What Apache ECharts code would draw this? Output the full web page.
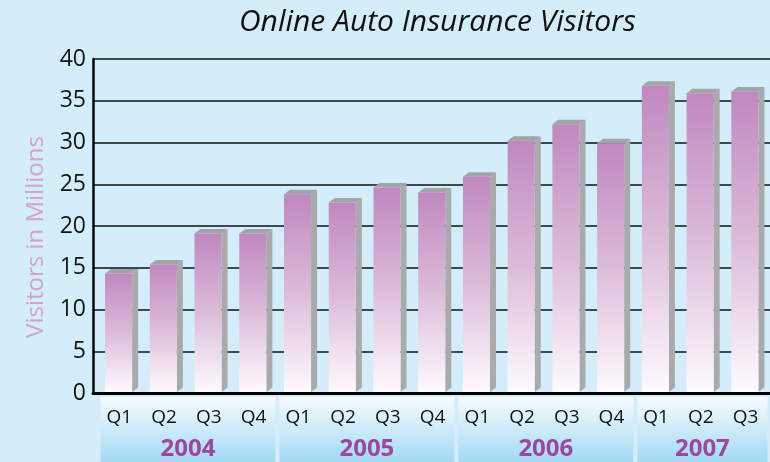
<!DOCTYPE html>
<html>
<head>
<meta charset="utf-8">
<script src="https://cdn.jsdelivr.net/npm/echarts@6/dist/echarts.min.js"></script>
<style>
  html, body { margin: 0; padding: 0; background: #d3eefa; }
  #chart { width: 770px; height: 462px; }
</style>
</head>
<body>
<div id="chart"></div>
<script>
let quarters = ['Q1', 'Q2', 'Q3', 'Q4', 'Q1', 'Q2', 'Q3', 'Q4', 'Q1', 'Q2', 'Q3', 'Q4', 'Q1', 'Q2', 'Q3'];
let visitors = [14.3, 15.4, 19.1, 19.1, 23.8, 22.8, 24.6, 24.0, 25.9, 30.2, 32.2, 29.9, 36.8, 35.9, 36.1];
let years = ['2004', '2005', '2006', '2007'];
let yearFirst = [0, 4, 8, 12];
let yearLast = [3, 7, 11, 14];
let yMin = 0, yMax = 40, yStep = 5;

let fontName = '"Open Sans", "Noto Sans", sans-serif';

// front face of a bar: purple on top fading to white
let frontFill = () => new echarts.graphic.LinearGradient(0, 0, 0, 1, [
  { offset: 0, color: '#c088bf' },
  { offset: 0.5, color: '#dcbcd9' },
  { offset: 1, color: '#fefafe' }
]);

let renderBar = (params, api) => {
  let i = api.value(0);
  let top = api.coord([i, api.value(1)]);
  let base = api.coord([i, 0]);
  let w = api.size([1, 0])[0];
  let fl = top[0] - w * 0.32;
  let fw = w * 0.605;
  let fr = fl + fw;
  let d = w * 0.135;
  let dy = 4.5;
  let bottom = base[1] - 1;
  return {
    type: 'group',
    children: [
      {
        type: 'polygon',
        shape: { points: [[fr, top[1]], [fr + d, top[1] - dy], [fr + d, bottom - dy], [fr, bottom]] },
        style: { fill: '#a8aaac' }
      },
      {
        type: 'polygon',
        shape: { points: [[fl, top[1]], [fl + d, top[1] - dy], [fr + d, top[1] - dy], [fr, top[1]]] },
        style: { fill: '#a3a4a5' }
      },
      {
        type: 'rect',
        shape: { x: fl, y: top[1], width: fw, height: bottom - top[1] },
        style: { fill: frontFill() }
      }
    ]
  };
}

// light band under each year's quarters, with the year in it
let renderBand = (params, api) => {
  let a = api.coord([api.value(0), 0]);
  let b = api.coord([api.value(1), 0]);
  let w = api.size([1, 0])[0];
  let x0 = a[0] - w / 2 + 3.5;
  let x1 = b[0] + w / 2 - 0.5;
  let y0 = a[1] + 4;
  let y1 = api.getHeight();
  return {
    type: 'group',
    children: [
      {
        type: 'rect',
        shape: { x: x0, y: y0, width: x1 - x0, height: y1 - y0 },
        style: {
          fill: new echarts.graphic.LinearGradient(0, 0, 0, 1, [
            { offset: 0, color: '#f6fcfe' },
            { offset: 1, color: '#a3d9f3' }
          ])
        }
      },
      {
        type: 'text',
        style: {
          text: years[params.dataIndex],
          x: (x0 + x1) / 2,
          y: a[1] + 56,
          align: 'center',
          verticalAlign: 'middle',
          fill: '#9b479b',
          fontSize: 24,
          fontWeight: 'bold',
          fontFamily: fontName
        }
      }
    ]
  };
}

let myChart = echarts.init(document.getElementById('chart'));
let option = {
  backgroundColor: '#d3eefa',
  animation: false,
  title: {
    text: 'Online Auto Insurance Visitors',
    left: 234,
    top: 2,
    textStyle: {
      fontSize: 30,
      fontStyle: 'italic',
      fontWeight: 'normal',
      color: '#111',
      fontFamily: fontName
    }
  },
  grid: [
    { left: 93, right: 0, top: 59, bottom: 69 },
    { left: 97, right: 2, top: 59, bottom: 69 }
  ],
  xAxis: [
    {
      gridIndex: 0,
      type: 'value',
      min: 0,
      max: 1,
      axisLine: { show: true, lineStyle: { color: '#000', width: 3 } },
      axisTick: { show: false },
      axisLabel: { show: false },
      splitLine: { show: false }
    },
    {
      gridIndex: 1,
      type: 'category',
      data: quarters,
      z: 5,
      axisLine: { show: false },
      axisTick: { show: false },
      axisLabel: { color: '#111', fontSize: 19, margin: 15, fontFamily: fontName },
      splitLine: { show: false }
    }
  ],
  yAxis: [
    {
      gridIndex: 0,
      type: 'value',
      min: yMin,
      max: yMax,
      interval: yStep,
      name: 'Visitors in Millions',
      nameLocation: 'middle',
      nameRotate: 90,
      nameGap: 45,
      nameTextStyle: { color: '#d6a0cf', fontSize: 24, fontFamily: fontName, padding: [0, 22, 0, 0] },
      axisLine: { show: true, lineStyle: { color: '#000', width: 2.5 } },
      axisTick: { show: false },
      axisLabel: { color: '#111', fontSize: 23, margin: 7, fontFamily: fontName },
      splitLine: { show: true, lineStyle: { color: '#111', width: 1.5 } }
    },
    {
      gridIndex: 1,
      type: 'value',
      min: yMin,
      max: yMax,
      interval: yStep,
      show: false
    }
  ],
  series: [
    {
      name: 'Years',
      type: 'custom',
      xAxisIndex: 1,
      yAxisIndex: 1,
      z: 1,
      renderItem: renderBand,
      data: yearFirst.map((f, k) => [f, yearLast[k]])
    },
    {
      name: 'Visitors',
      type: 'custom',
      xAxisIndex: 1,
      yAxisIndex: 1,
      z: 3,
      renderItem: renderBar,
      data: visitors.map((v, i) => [i, v])
    }
  ]
};
myChart.setOption(option);
</script>
</body>
</html>
